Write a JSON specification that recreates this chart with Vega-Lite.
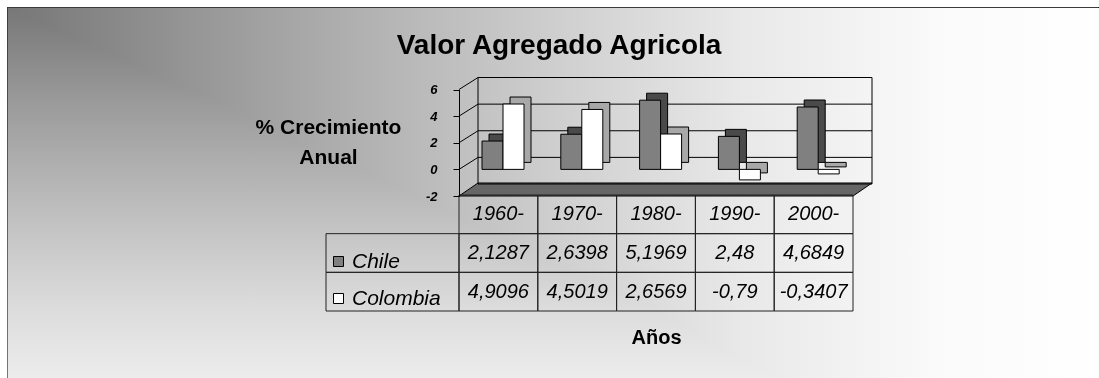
{
  "$schema": "https://vega.github.io/schema/vega-lite/v6.json",
  "width": 1092,
  "height": 371,
  "autosize": "none",
  "padding": {"left": 7, "top": 7, "right": 0, "bottom": 0},
  "background": "white",
  "title": {"text": "Valor Agregado Agricola", "font": "Liberation Sans", "fontSize": 28, "fontWeight": "bold", "color": "black", "anchor": "middle", "frame": "group", "offset": -75, "baseline": "alphabetic", "dx": 6},
  "config": {
    "view": {"fill": {"gradient": "linear", "x1": 0, "y1": 0, "x2": 1, "y2": 0, "stops": [{"offset": 0, "color": "#777777"}, {"offset": 0.27, "color": "#a8a8a8"}, {"offset": 0.51, "color": "#d0d0d0"}, {"offset": 0.67, "color": "#e8e8e8"}, {"offset": 0.85, "color": "#fafafa"}, {"offset": 1, "color": "#ffffff"}]}, "stroke": "black", "strokeWidth": 1},
    "locale": {"number": {"decimal": ",", "thousands": ".", "grouping": [3], "currency": ["", ""], "minus": "-"}},
    "font": "Liberation Sans"
  },
  "data": {"values": [
    {"decade": "1960-", "country": "Chile", "value": 2.1287},
    {"decade": "1970-", "country": "Chile", "value": 2.6398},
    {"decade": "1980-", "country": "Chile", "value": 5.1969},
    {"decade": "1990-", "country": "Chile", "value": 2.48},
    {"decade": "2000-", "country": "Chile", "value": 4.6849},
    {"decade": "1960-", "country": "Colombia", "value": 4.9096},
    {"decade": "1970-", "country": "Colombia", "value": 4.5019},
    {"decade": "1980-", "country": "Colombia", "value": 2.6569},
    {"decade": "1990-", "country": "Colombia", "value": -0.79},
    {"decade": "2000-", "country": "Colombia", "value": -0.3407}
  ]},
  "resolve": {"scale": {"x": "independent", "y": "independent", "xOffset": "independent", "color": "independent"}},
  "layer": [
    {
      "data": {"values": [{}]},
      "mark": {"type": "rect", "blend": "lighten", "stroke": "black", "strokeWidth": 1, "strokeDash": [1093, 1462, 373, 20], "fill": {"gradient": "linear", "x1": 0, "y1": 0, "x2": 0, "y2": 1, "stops": [{"offset": 0, "color": "#777777"}, {"offset": 0.27, "color": "#9c9c9c"}, {"offset": 0.54, "color": "#bdbdbd"}, {"offset": 0.81, "color": "#dcdcdc"}, {"offset": 1, "color": "#ececec"}]}},
      "encoding": {}
    },
    {
      "data": {"values": [{}]},
      "mark": {"type": "point", "shape": "M -1 0.0315 L 0.908 0.0315 L 1 -0.0315 L -0.908 -0.0315 Z", "size": 170569, "filled": true, "fill": "#666666", "stroke": "black", "strokeWidth": 1, "opacity": 1},
      "encoding": {
        "x": {"datum": 0.5, "type": "quantitative", "scale": {"domain": [0, 1], "range": [452, 865], "nice": false, "zero": false}, "axis": null},
        "y": {"datum": 0.5, "type": "quantitative", "scale": {"domain": [0, 1], "range": [189, 176], "nice": false, "zero": false}, "axis": null}
      }
    },
    {
      "data": {"values": [{}]},
      "layer": [
        {"mark": {"type": "rule", "color": "black", "strokeWidth": 1}, "encoding": {"x": {"datum": 0, "type": "quantitative", "scale": {"domain": [0, 1], "range": [452, 471], "nice": false, "zero": false}, "axis": null}, "x2": {"datum": 1}, "y": {"datum": 0, "type": "quantitative", "scale": {"domain": [-2, 6], "range": [189, 82.5], "nice": false, "zero": false}, "axis": null}, "y2": {"datum": 0.9}}},
        {"mark": {"type": "rule", "color": "black", "strokeWidth": 1}, "encoding": {"x": {"datum": 0, "type": "quantitative"}, "x2": {"datum": 1}, "y": {"datum": 2, "type": "quantitative"}, "y2": {"datum": 2.9}}},
        {"mark": {"type": "rule", "color": "black", "strokeWidth": 1}, "encoding": {"x": {"datum": 0, "type": "quantitative"}, "x2": {"datum": 1}, "y": {"datum": 4, "type": "quantitative"}, "y2": {"datum": 4.9}}},
        {"mark": {"type": "rule", "color": "black", "strokeWidth": 1}, "encoding": {"x": {"datum": 0, "type": "quantitative"}, "x2": {"datum": 1}, "y": {"datum": 6, "type": "quantitative"}, "y2": {"datum": 6.9}}}
      ]
    },
    {
      "data": {"values": [{}]},
      "layer": [
        {
          "mark": {"type": "rect", "filled": false, "stroke": "black", "strokeWidth": 1},
          "encoding": {
            "x": {"datum": 0, "type": "quantitative", "scale": {"domain": [0, 1], "range": [471, 865], "nice": false, "zero": false}, "axis": null},
            "x2": {"datum": 1},
            "y": {"datum": -2, "type": "quantitative", "scale": {"domain": [-2, 6], "range": [177, 70.5], "nice": false, "zero": false}, "axis": null},
            "y2": {"datum": 6}
          }
        },
        {"mark": {"type": "rule", "color": "black", "strokeWidth": 1}, "encoding": {"x": {"datum": 0, "type": "quantitative"}, "x2": {"datum": 1}, "y": {"datum": 0, "type": "quantitative"}}},
        {"mark": {"type": "rule", "color": "black", "strokeWidth": 1}, "encoding": {"x": {"datum": 0, "type": "quantitative"}, "x2": {"datum": 1}, "y": {"datum": 2, "type": "quantitative"}}},
        {"mark": {"type": "rule", "color": "black", "strokeWidth": 1}, "encoding": {"x": {"datum": 0, "type": "quantitative"}, "x2": {"datum": 1}, "y": {"datum": 4, "type": "quantitative"}}}
      ]
    },
    {
      "mark": {"type": "bar", "stroke": "black", "strokeWidth": 1},
      "encoding": {
        "x": {"field": "decade", "type": "nominal", "sort": null, "scale": {"domain": ["1960-", "1970-", "1980-", "1990-", "2000-"], "range": [452, 846], "paddingInner": 0, "paddingOuter": 0}, "axis": null},
        "xOffset": {"field": "country", "type": "nominal", "scale": {"domain": ["Chile", "Colombia"], "range": [30, 72], "paddingInner": 0, "paddingOuter": 0}},
        "y": {"field": "value", "type": "quantitative", "scale": {"domain": [-2, 6], "range": [182, 75.5], "nice": false, "zero": false}, "axis": null},
        "y2": {"datum": 0},
        "color": {"field": "country", "type": "nominal", "scale": {"domain": ["Chile", "Colombia"], "range": ["#4a4a4a", "#a8a8a8"]}, "legend": null}
      }
    },
    {
      "mark": {"type": "bar", "stroke": "black", "strokeWidth": 1},
      "encoding": {
        "x": {"field": "decade", "type": "nominal", "sort": null, "scale": {"domain": ["1960-", "1970-", "1980-", "1990-", "2000-"], "range": [452, 846], "paddingInner": 0, "paddingOuter": 0}, "axis": null},
        "xOffset": {"field": "country", "type": "nominal", "scale": {"domain": ["Chile", "Colombia"], "range": [23, 65], "paddingInner": 0, "paddingOuter": 0}},
        "y": {"field": "value", "type": "quantitative", "scale": {"domain": [-2, 6], "range": [189, 82.5], "nice": false, "zero": false},
          "axis": {"orient": "left", "offset": -452, "zindex": 1, "values": [-2, 0, 2, 4, 6], "domain": true, "domainColor": "black", "ticks": true, "tickColor": "black", "tickSize": 6, "labelFont": "Liberation Sans", "labelFontSize": 13, "labelFontWeight": "bold", "labelFontStyle": "italic", "labelColor": "black", "labelPadding": 16, "labelFlush": false, "labelOverlap": false, "grid": false,
            "title": ["% Crecimiento", "Anual"], "titleAngle": 0, "titleAlign": "center", "titleBaseline": "alphabetic", "titleX": -131, "titleY": 126, "titleFont": "Liberation Sans", "titleFontSize": 21, "titleFontWeight": "bold", "titleColor": "black", "titleLineHeight": 30}},
        "y2": {"datum": 0},
        "color": {"field": "country", "type": "nominal", "scale": {"domain": ["Chile", "Colombia"], "range": ["#808080", "#ffffff"]},
          "legend": {"orient": "none", "legendX": 321, "legendY": 244, "zindex": 1, "title": null, "symbolType": "square", "symbolSize": 100, "symbolStrokeColor": "black", "symbolStrokeWidth": 1, "symbolOpacity": 1, "labelFont": "Liberation Sans", "labelFontSize": 21, "labelFontStyle": "italic", "labelColor": "black", "rowPadding": 15, "labelOffset": 3, "padding": 0}}
      }
    },
    {
      "transform": [{"filter": "datum.decade === '1960-'"}],
      "mark": {"type": "rect", "filled": false, "stroke": "#222222", "strokeWidth": 1},
      "encoding": {
        "x": {"datum": "L", "type": "nominal", "scale": {"domain": ["L"], "range": [319, 452], "paddingInner": 0, "paddingOuter": 0}, "axis": null},
        "y": {"field": "country", "type": "nominal", "scale": {"domain": ["h", "Chile", "Colombia"], "range": [188, 304], "paddingInner": 0, "paddingOuter": 0}, "axis": null}
      }
    },
    {
      "layer": [
        {
          "mark": {"type": "rect", "filled": false, "stroke": "#222222", "strokeWidth": 1},
          "encoding": {
            "x": {"field": "decade", "type": "nominal", "sort": null, "scale": {"domain": ["1960-", "1970-", "1980-", "1990-", "2000-"], "range": [452, 846], "paddingInner": 0, "paddingOuter": 0},
              "axis": {"orient": "bottom", "offset": -60, "zindex": 1, "labels": false, "ticks": false, "domain": false, "grid": false, "title": "Años", "titleFont": "Liberation Sans", "titleFontSize": 20, "titleFontWeight": "bold", "titleColor": "black", "titleBaseline": "alphabetic", "titleY": 25, "titlePadding": 0}},
            "y": {"field": "country", "type": "nominal", "scale": {"domain": ["h", "Chile", "Colombia"], "range": [188, 304], "paddingInner": 0, "paddingOuter": 0}, "axis": null}
          }
        },
        {
          "transform": [{"filter": "datum.country === 'Chile'"}],
          "mark": {"type": "rect", "filled": false, "stroke": "#222222", "strokeWidth": 1},
          "encoding": {
            "x": {"field": "decade", "type": "nominal", "sort": null},
            "y": {"datum": "h", "type": "nominal"}
          }
        },
        {
          "mark": {"type": "text", "font": "Liberation Sans", "fontSize": 20, "fontStyle": "italic", "color": "black"},
          "encoding": {
            "x": {"field": "decade", "type": "nominal", "sort": null},
            "y": {"field": "country", "type": "nominal"},
            "text": {"field": "value", "type": "quantitative", "format": ".6~r"}
          }
        },
        {
          "transform": [{"filter": "datum.country === 'Chile'"}],
          "mark": {"type": "text", "font": "Liberation Sans", "fontSize": 20, "fontStyle": "italic", "color": "black"},
          "encoding": {
            "x": {"field": "decade", "type": "nominal", "sort": null},
            "y": {"datum": "h", "type": "nominal"},
            "text": {"field": "decade", "type": "nominal"}
          }
        }
      ]
    }
  ]
}
